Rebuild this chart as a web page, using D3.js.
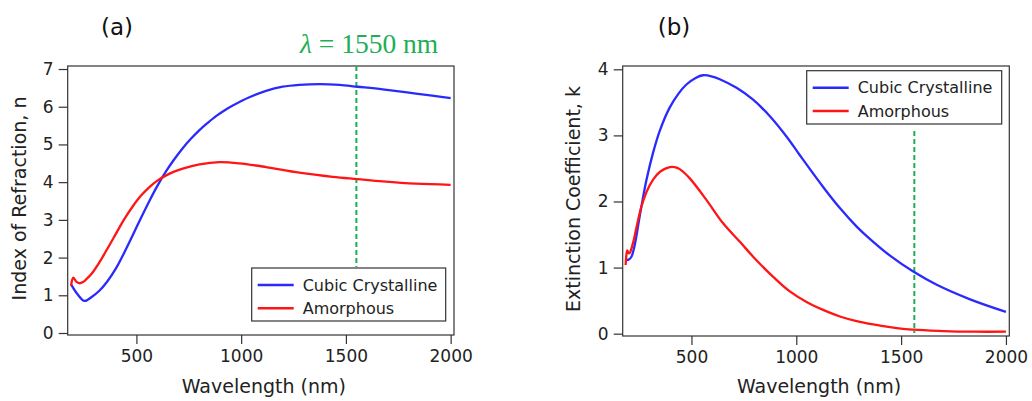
<!DOCTYPE html>
<html><head><meta charset="utf-8">
<script src="https://cdn.jsdelivr.net/npm/d3@7"></script>
<style>body{margin:0;background:#fff}svg{display:block}</style>
</head><body>
<svg id="c" width="1032" height="401"></svg>
<script>
// ---- data ----
const seriesNames = ["Cubic Crystalline", "Amorphous"];
const xTicks = [500, 1000, 1500, 2000];
const nTicks = [0, 1, 2, 3, 4, 5, 6, 7];
const kTicks = [0, 1, 2, 3, 4];
const markerA = 1550;
const markerB = 1563;

// Index of refraction n, [wavelength nm, n]
const nCubic = [[188,1.29],[220,1.02],[252,0.85],[285,0.95],[323,1.12],[360,1.36],[403,1.72],[440,2.11],[483,2.6],[520,3.03],[562,3.5],[600,3.9],[642,4.29],[680,4.6],[721,4.9],[760,5.15],[801,5.38],[840,5.57],[880,5.75],[920,5.9],[960,6.03],[1039,6.25],[1119,6.42],[1198,6.53],[1278,6.58],[1373,6.6],[1469,6.58],[1556,6.53],[1676,6.46],[1834,6.35],[2000,6.23]];
const nAmorph = [[188,1.25],[193,1.4],[199,1.47],[206,1.42],[213,1.36],[228,1.32],[245,1.35],[260,1.42],[290,1.6],[323,1.87],[360,2.22],[403,2.64],[440,3.0],[483,3.36],[520,3.63],[562,3.87],[600,4.04],[642,4.18],[680,4.28],[721,4.36],[801,4.47],[896,4.53],[991,4.5],[1119,4.4],[1278,4.25],[1437,4.14],[1556,4.08],[1676,4.02],[1834,3.96],[2000,3.93]];

// Extinction coefficient k, [wavelength nm, k]
const kCubic = [[190,1.12],[200,1.12],[213,1.16],[225,1.28],[237,1.47],[250,1.72],[261,1.92],[285,2.32],[317,2.74],[350,3.08],[396,3.42],[440,3.64],[476,3.77],[520,3.87],[555,3.91],[600,3.89],[635,3.85],[715,3.72],[794,3.54],[874,3.29],[954,2.98],[1017,2.7],[1128,2.22],[1208,1.9],[1288,1.62],[1352,1.43],[1447,1.18],[1558,0.94],[1670,0.74],[1829,0.52],[2000,0.33]];
const kAmorph = [[186,1.04],[190,1.2],[194,1.26],[199,1.22],[205,1.22],[212,1.27],[225,1.42],[237,1.6],[261,1.92],[285,2.14],[317,2.33],[350,2.45],[396,2.52],[420,2.52],[444,2.49],[492,2.35],[572,2.02],[651,1.67],[731,1.39],[810,1.11],[890,0.86],[969,0.64],[1049,0.48],[1128,0.36],[1208,0.26],[1288,0.19],[1367,0.14],[1447,0.1],[1558,0.06],[1700,0.04],[1850,0.03],[2000,0.03]];

const colors = ["#2a2aff", "#ff1515"];
const green = "#1fae55";
const font = "DejaVu Sans, Verdana, sans-serif";

const svg = d3.select("#c");

function panel(cfg) {
  const x = d3.scaleLinear().domain([172, 2016]).range([cfg.left, cfg.right]);
  const y = d3.scaleLinear().domain(cfg.yDomain).range([cfg.bottom, cfg.top]);
  const g = svg.append("g");

  g.append("rect").attr("x", cfg.left).attr("y", cfg.top)
    .attr("width", cfg.right - cfg.left).attr("height", cfg.bottom - cfg.top)
    .attr("fill", "none").attr("stroke", "#333").attr("stroke-width", 1.2);

  const ax = g.append("g").attr("transform", `translate(0,${cfg.bottom})`)
    .call(d3.axisBottom(x).tickValues(xTicks).tickSize(9).tickPadding(6).tickFormat(d3.format("d")));
  const ay = g.append("g").attr("transform", `translate(${cfg.left},0)`)
    .call(d3.axisLeft(y).tickValues(cfg.yTicks).tickSize(9).tickPadding(5).tickFormat(d3.format("d")));
  [ax, ay].forEach(a => {
    a.select(".domain").remove();
    a.selectAll(".tick line").attr("stroke", "#333").attr("stroke-width", 1.2);
    a.selectAll(".tick text").attr("fill", "#222").style("font-family", font).style("font-size", "17px");
  });

  g.append("line").attr("x1", x(cfg.marker)).attr("x2", x(cfg.marker))
    .attr("y1", cfg.markTop).attr("y2", cfg.markBottom)
    .attr("stroke", green).attr("stroke-width", 2).attr("stroke-dasharray", "5,3");

  const line = d3.line().x(d => x(d[0])).y(d => y(d[1])).curve(d3.curveCatmullRom.alpha(0.5));
  cfg.series.forEach((s, i) => {
    g.append("path").datum(s).attr("d", line).attr("fill", "none")
      .attr("stroke", colors[i]).attr("stroke-width", 2.3).attr("stroke-linejoin", "round");
  });

  const L = cfg.legend;
  g.append("rect").attr("x", L.x).attr("y", L.y).attr("width", L.w).attr("height", L.h)
    .attr("fill", "#fff").attr("stroke", "#333").attr("stroke-width", 1.2);
  seriesNames.forEach((nm, i) => {
    const yy = L.y + 17 + i * 23.3;
    g.append("line").attr("x1", L.x + 6).attr("x2", L.x + 42).attr("y1", yy).attr("y2", yy)
      .attr("stroke", colors[i]).attr("stroke-width", 2.4);
    g.append("text").attr("x", L.x + 51).attr("y", yy).attr("dy", "0.35em")
      .style("font-family", font).style("font-size", "16px").attr("fill", "#222").text(nm);
  });

  g.append("text").attr("x", (cfg.left + cfg.right) / 2 + 3).attr("y", 393)
    .attr("text-anchor", "middle").style("font-family", font).style("font-size", "19px")
    .attr("fill", "#222").text("Wavelength (nm)");
  g.append("text").attr("transform", `translate(${cfg.yLabelX},${(cfg.top + cfg.bottom) / 2 - 2}) rotate(-90)`)
    .attr("text-anchor", "middle").style("font-family", font).style("font-size", "19px")
    .attr("fill", "#222").text(cfg.yLabel);

  g.append("text").attr("x", cfg.titleX).attr("y", 35).attr("text-anchor", "middle")
    .style("font-family", font).style("font-size", "23px").attr("fill", "#111").text(cfg.title);
  return x;
}

panel({
  left: 67.7, right: 454, top: 66, bottom: 335, yDomain: [-0.053, 7.08], yTicks: nTicks,
  series: [nCubic, nAmorph], marker: markerA, markTop: 66, markBottom: 267,
  legend: {x: 251.7, y: 268, w: 194, h: 53},
  yLabel: "Index of Refraction, n", yLabelX: 26, title: "(a)", titleX: 117
});
panel({
  left: 622.7, right: 1009.3, top: 66, bottom: 336, yDomain: [-0.035, 4.05], yTicks: kTicks,
  series: [kCubic, kAmorph], marker: markerB, markTop: 131, markBottom: 333,
  legend: {x: 806.7, y: 70.7, w: 195, h: 53.3},
  yLabel: "Extinction Coefficient, k", yLabelX: 580, title: "(b)", titleX: 674
});

const lt = svg.append("text").attr("x", 300).attr("y", 53)
  .style("font-family", "Liberation Serif, Times New Roman, serif").style("font-size", "27.5px")
  .attr("fill", green);
lt.append("tspan").style("font-style", "italic").text("λ");
lt.append("tspan").text(" = " + markerA + " nm");
</script>
</body></html>
